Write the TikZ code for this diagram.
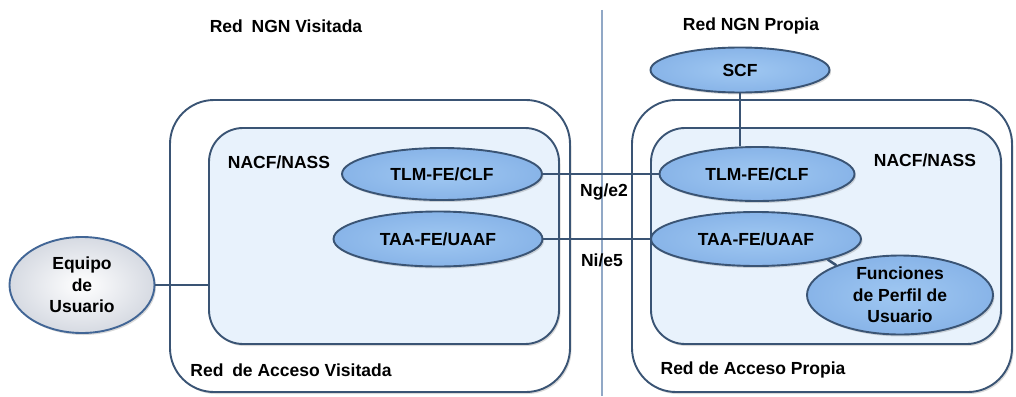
\documentclass[tikz,border=0pt]{standalone}
\usepackage{fontspec}
\setmainfont{Liberation Sans}
\usetikzlibrary{shapes.geometric,shadows}

\definecolor{borde}{RGB}{58,84,116}
\definecolor{fondo}{RGB}{232,242,252}
\definecolor{elipseclaro}{RGB}{160,200,242}
\definecolor{elipseoscuro}{RGB}{136,180,232}
\definecolor{bordeeq}{RGB}{66,102,150}
\definecolor{grisoscuro}{RGB}{214,218,226}
\definecolor{divisor}{RGB}{145,168,198}

\tikzset{
  texto/.style={font=\fontsize{17.5}{21.5}\selectfont\bfseries, align=center, inner sep=0pt},
  sombra/.style={drop shadow={shadow xshift=1.5pt, shadow yshift=-2pt, opacity=0.3}},
  cajaext/.style={draw=borde, line width=1.9pt, fill=white, rounded corners=44pt, sombra},
  cajaint/.style={draw=borde, line width=1.9pt, fill=fondo, rounded corners=34pt, sombra},
  elipse/.style={ellipse, draw=borde, line width=1.9pt, inner color=elipseclaro,
    outer color=elipseoscuro, inner sep=0pt, sombra, texto},
  enlace/.style={draw=borde, line width=2.6pt}
}

\begin{document}
\begin{tikzpicture}[x=1pt,y=-1pt]
    \useasboundingbox (0,0) rectangle (1016,396);

    % Separacion entre redes
    \coordinate (divA) at (602,10);
    \coordinate (divB) at (602,396);
    \draw[divisor, line width=1.2pt] (divA) -- (divB);

    % Titulos
    \node[texto] (tituloV) at (286,26) {Red\enspace NGN Visitada};
    \node[texto] (tituloP) at (751,26) {Red NGN Propia};

    % Redes de acceso
    \node[cajaext, minimum width=400pt, minimum height=292pt] (accesoV) at (370,246) {};
    \node[cajaext, minimum width=380pt, minimum height=292pt] (accesoP) at (822,246) {};
    \node[cajaint, minimum width=350pt, minimum height=216pt] (nassV) at (384,236) {};
    \node[cajaint, minimum width=350pt, minimum height=216pt] (nassP) at (826,236) {};

    \node[texto] (etiqAccV) at (291,370) {Red\enspace de Acceso Visitada};
    \node[texto] (etiqAccP) at (753,370) {Red de Acceso Propia};
    \node[texto] (etiqNassV) at (279,162) {NACF/NASS};
    \node[texto] (etiqNassP) at (925,160) {NACF/NASS};

    % Entidades funcionales
    \node[elipse, minimum width=179pt, minimum height=45pt] (scf) at (740,70) {SCF};
    \node[elipse, minimum width=200pt, minimum height=52pt] (tlmV) at (442,174) {TLM-FE/CLF};
    \node[elipse, minimum width=209pt, minimum height=55pt] (taaV) at (438,239) {TAA-FE/UAAF};
    \node[elipse, minimum width=195pt, minimum height=54pt] (tlmP) at (757,174) {TLM-FE/CLF};
    \node[elipse, minimum width=210pt, minimum height=54pt] (taaP) at (756,239) {TAA-FE/UAAF};
    \node[elipse, minimum width=186pt, minimum height=76pt] (perfil) at (900,295)
        {Funciones\\de Perfil de\\Usuario};
    \node[elipse, draw=bordeeq, inner color=white, outer color=grisoscuro,
        minimum width=145pt, minimum height=96pt] (equipo) at (82,285) {Equipo\\de\\Usuario};

    % Interfaces
    \draw[enlace] (tlmV.east) -- (tlmP.west);
    \draw[enlace] (taaV.east) -- (taaP.west);
    \draw[enlace] (scf.south) -- (scf.south |- tlmP.north);
    \draw[enlace] (taaP.-16) -- (perfil.155);
    \draw[enlace] (equipo.east) -- (nassV.west |- equipo.east);

    \node[texto] (ng) at (604,192) {Ng/e2};
    \node[texto] (ni) at (602,260) {Ni/e5};
\end{tikzpicture}
\end{document}
